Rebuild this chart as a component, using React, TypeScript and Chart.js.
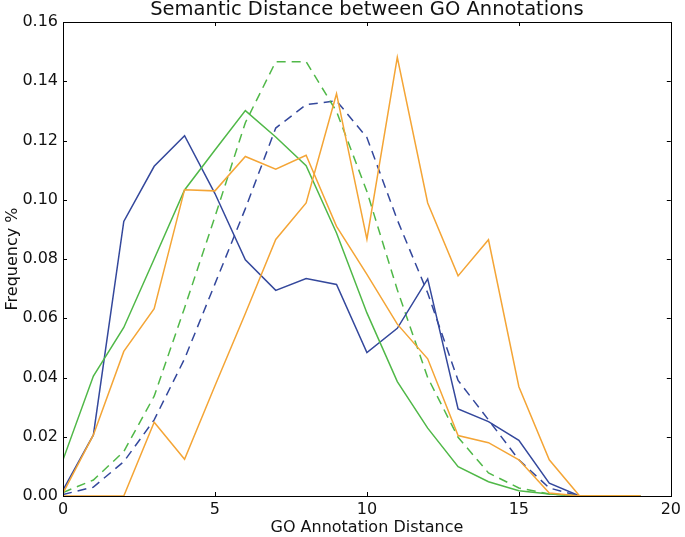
import React, { useEffect, useRef } from "react";
import { Chart, registerables } from "chart.js";

Chart.register(...registerables);

const distances = [0, 1, 2, 3, 4, 5, 6, 7, 8, 9, 10, 11, 12, 13, 14, 15, 16, 17, 18, 19];

const blueSolid = [0.002, 0.0206, 0.0927, 0.1113, 0.1216, 0.1021, 0.0797, 0.0694, 0.0734, 0.0714, 0.0484, 0.0566, 0.0733, 0.0294, 0.0251, 0.0188, 0.0043, 0, 0, 0];
const greenSolid = [0.0122, 0.0405, 0.0569, 0.08, 0.1033, 0.1168, 0.1301, 0.1212, 0.1115, 0.0888, 0.0618, 0.0386, 0.0229, 0.0099, 0.0048, 0.0018, 0.0007, 0, 0, 0];
const orangePlateau = [0.001, 0.0206, 0.0488, 0.0632, 0.1034, 0.103, 0.1146, 0.1103, 0.115, 0.091, 0.0748, 0.058, 0.0463, 0.0204, 0.018, 0.0122, 0.001, 0, 0, 0];
const orangePeaky = [0, 0, 0, 0.0249, 0.0124, 0.0372, 0.0616, 0.0866, 0.0989, 0.1358, 0.0867, 0.1481, 0.0989, 0.0743, 0.0865, 0.0369, 0.0122, 0, 0, 0];
const greenDashed = [0.0012, 0.0054, 0.015, 0.0337, 0.0635, 0.0943, 0.126, 0.1466, 0.1466, 0.1298, 0.1028, 0.0696, 0.04, 0.0198, 0.0078, 0.0027, 0.0007, 0, 0, 0];
const blueDashed = [0.0005, 0.003, 0.0116, 0.0257, 0.0463, 0.0716, 0.097, 0.1242, 0.1321, 0.1334, 0.121, 0.0932, 0.0685, 0.039, 0.0257, 0.0122, 0.0027, 0, 0, 0];

const xTicks = [0, 5, 10, 15, 20];
const yTicks = [0, 0.02, 0.04, 0.06, 0.08, 0.1, 0.12, 0.14, 0.16];

const titleText = "Semantic Distance between GO Annotations";
const xTitle = "GO Annotation Distance";
const yTitle = "Frequency %";

const BLUE = "#34489c";
const GREEN = "#50b848";
const ORANGE = "#f4a536";
const FONT = "'DejaVu Sans', sans-serif";
const TEXT = "#111111";

const toPoints = (ys: number[]) => ys.map((y, i) => ({ x: distances[i], y }));

const framePlugin = {
  id: "frameTicks",
  afterDraw(chart: any) {
    const { ctx, chartArea } = chart;
    const { left, right, top, bottom } = chartArea;
    const xs = chart.scales.x;
    const ys = chart.scales.y;
    const len = 4;
    ctx.save();
    ctx.strokeStyle = "#000";
    ctx.lineWidth = 1;
    ctx.beginPath();
    xTicks.forEach((v) => {
      const px = Math.round(xs.getPixelForValue(v)) + 0.5;
      ctx.moveTo(px, bottom);
      ctx.lineTo(px, bottom - len);
      ctx.moveTo(px, top);
      ctx.lineTo(px, top + len);
    });
    yTicks.forEach((v) => {
      const py = Math.round(ys.getPixelForValue(v)) + 0.5;
      ctx.moveTo(left, py);
      ctx.lineTo(left + len, py);
      ctx.moveTo(right, py);
      ctx.lineTo(right - len, py);
    });
    ctx.stroke();
    ctx.strokeRect(Math.round(left) + 0.5, Math.round(top) + 0.5, Math.round(right - left), Math.round(bottom - top));
    ctx.restore();
  },
};

export default function App() {
  const ref = useRef<HTMLCanvasElement | null>(null);
  useEffect(() => {
    if (!ref.current) return;
    const mk = (data: number[], color: string, dashed: boolean) => ({
      data: toPoints(data),
      borderColor: color,
      backgroundColor: color,
      borderWidth: 1.5,
      borderDash: dashed ? [9, 6] : [],
      pointRadius: 0,
      fill: false,
      tension: 0,
    });
    const chart = new Chart(ref.current, {
      type: "line",
      data: {
        datasets: [
          mk(orangePeaky, ORANGE, false),
          mk(orangePlateau, ORANGE, false),
          mk(greenSolid, GREEN, false),
          mk(blueSolid, BLUE, false),
          mk(greenDashed, GREEN, true),
          mk(blueDashed, BLUE, true),
        ],
      },
      options: {
        animation: false,
        responsive: false,
        devicePixelRatio: 1,
        layout: { padding: { left: 0, right: 11, top: 0, bottom: 0 } },
        plugins: {
          legend: { display: false },
          tooltip: { enabled: false },
          title: {
            display: true,
            text: titleText,
            fullSize: false,
            color: TEXT,
            font: { family: FONT, size: 19.5, weight: "normal", lineHeight: 1 },
            padding: { top: 0, bottom: 2.5 },
          },
        },
        scales: {
          x: {
            type: "linear",
            min: 0,
            max: 20,
            afterFit: (s: any) => {
              s.height = 41;
            },
            afterBuildTicks: (s: any) => {
              s.ticks = xTicks.map((v) => ({ value: v }));
            },
            grid: { display: false, drawTicks: false },
            border: { display: false },
            ticks: {
              color: TEXT,
              padding: 4,
              maxRotation: 0,
              font: { family: FONT, size: 16 },
              callback: (v: any) => String(v),
            },
            title: {
              display: true,
              text: xTitle,
              color: TEXT,
              font: { family: FONT, size: 16, lineHeight: 1.2 },
              padding: { top: 0, bottom: 0 },
            },
          },
          y: {
            type: "linear",
            min: 0,
            max: 0.16,
            afterFit: (s: any) => {
              s.width = 63;
            },
            afterBuildTicks: (s: any) => {
              s.ticks = yTicks.map((v) => ({ value: v }));
            },
            grid: { display: false, drawTicks: false },
            border: { display: false },
            ticks: {
              color: TEXT,
              padding: 5,
              font: { family: FONT, size: 16 },
              callback: (v: any) => Number(v).toFixed(2),
            },
            title: {
              display: true,
              text: yTitle,
              color: TEXT,
              font: { family: FONT, size: 16, lineHeight: 1.2 },
              padding: { top: 3, bottom: 0 },
            },
          },
        },
      },
      plugins: [framePlugin],
    } as any);
    return () => chart.destroy();
  }, []);
  return (
    <div style={{ position: "fixed", left: 0, top: 0, width: 685, height: 537, background: "#fff" }}>
      <canvas ref={ref} width={685} height={537} style={{ width: 685, height: 537, display: "block" }} />
    </div>
  );
}
